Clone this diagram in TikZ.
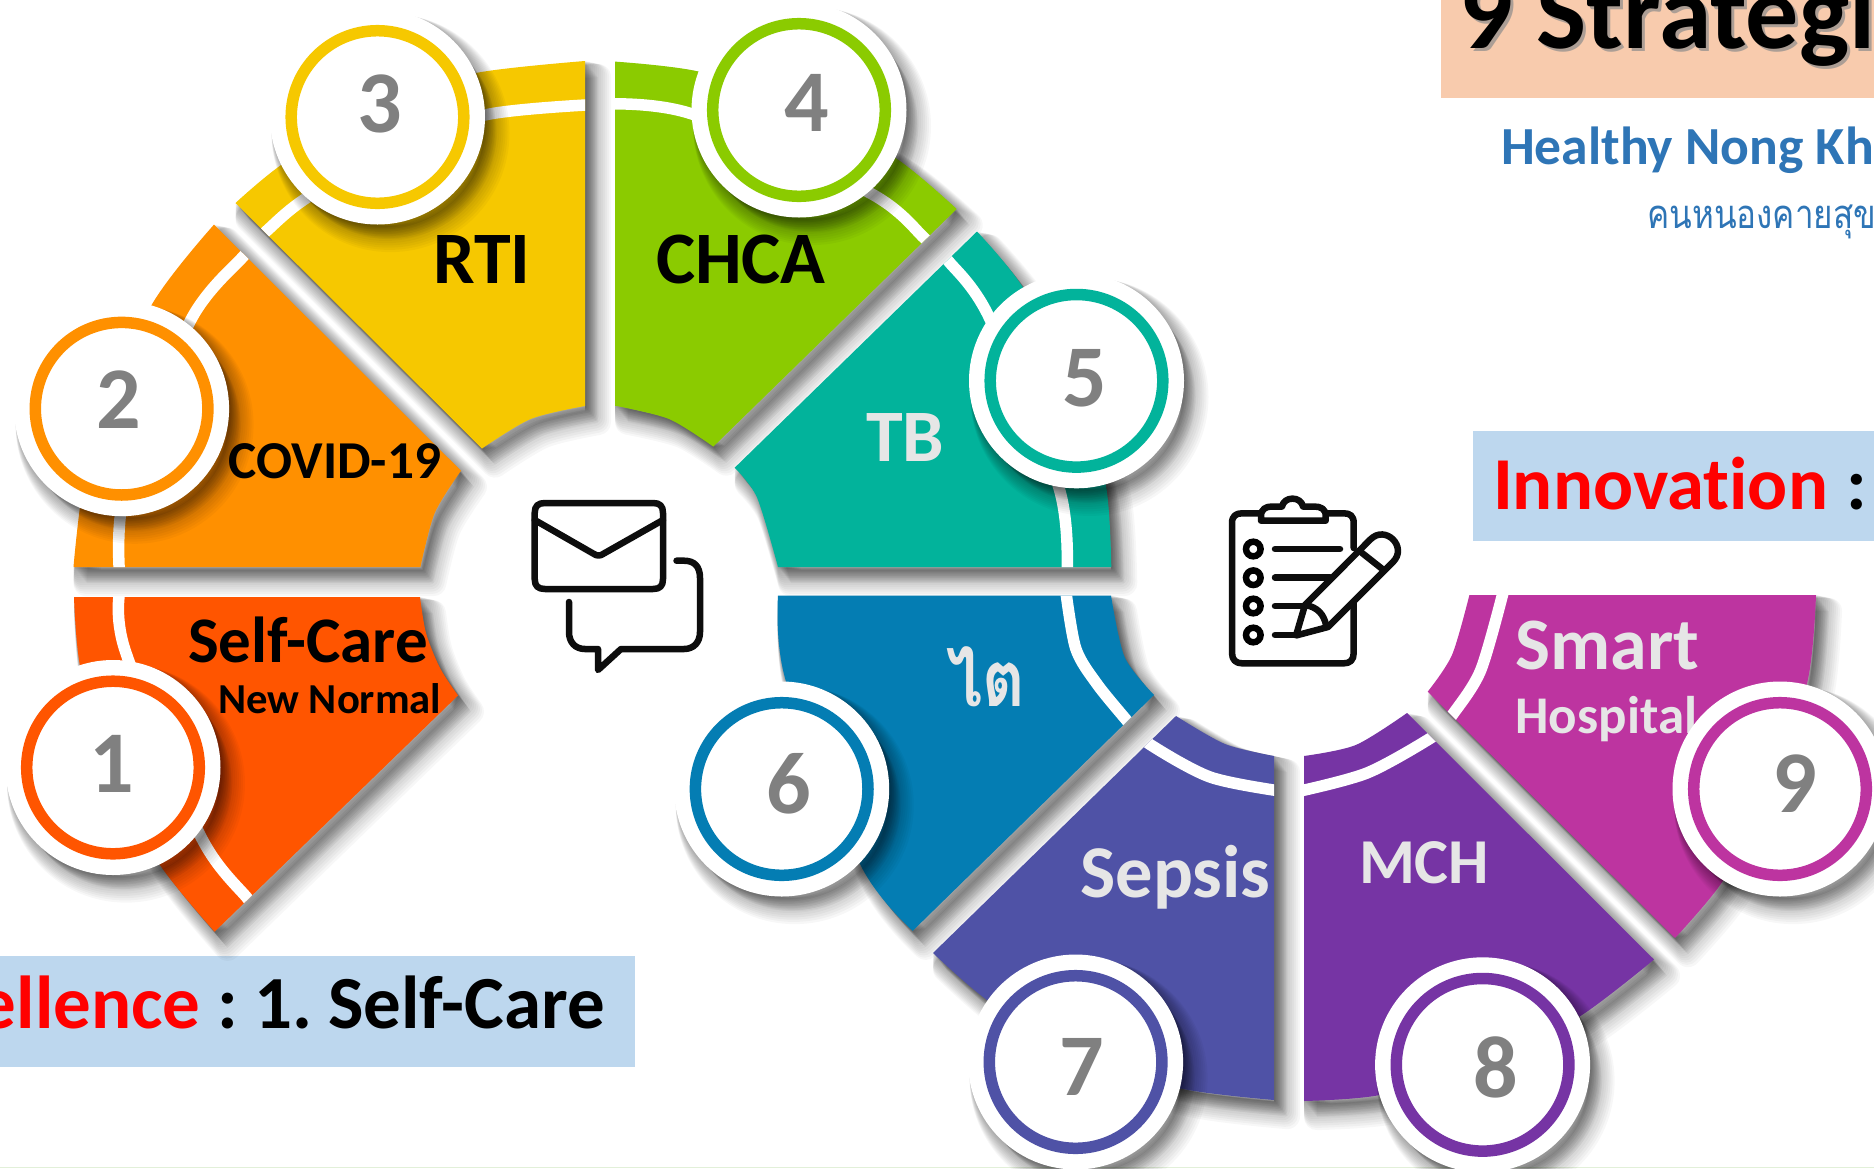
\documentclass[tikz,border=0pt]{standalone}
\usepackage{fontspec}
\setmainfont{Carlito}[Ligatures=NoCommon]
\newfontfamily\thaifont[Script=Thai]{Loma}
\definecolor{cA}{HTML}{FF5500}
\definecolor{cB}{HTML}{FF9000}
\definecolor{cC}{HTML}{F6C800}
\definecolor{cD}{HTML}{8BCB00}
\definecolor{cE}{HTML}{02B39B}
\definecolor{cF}{HTML}{047DB3}
\definecolor{cG}{HTML}{4F52A6}
\definecolor{cH}{HTML}{7634A4}
\definecolor{cI}{HTML}{BD34A0}
\definecolor{lighttxt}{HTML}{E6E6E6}
\definecolor{numgray}{HTML}{808080}
\definecolor{boxblue}{HTML}{BDD7EE}
\definecolor{peach}{HTML}{F8CBAD}
\definecolor{headblue}{HTML}{2E75B6}
\definecolor{edgegreen}{HTML}{E2F0D9}
\tikzset{
  lbl/.style={inner sep=0pt,outer sep=0pt,anchor=base west,font=\bfseries},
  bandline/.style={draw=white,line width=11.5pt},
  iconline/.style={draw=black!95,line width=6.5pt,line cap=round,line join=round}
}
\newcommand\fsz[1]{\fontsize{#1}{#1}\selectfont}
% segment outlines
\def\segA{plot[smooth] coordinates {(74,597)(80,666)(106,770)(160,865)(214.6,931.7)} -- (458,695.5) -- plot[smooth] coordinates {(458,695.5)(440,668)(426,633)(420,597)} -- cycle}
\def\segB{plot[smooth] coordinates {(214,224.6)(151,306)(92,440)(73.5,567)} -- (420.4,567) -- plot[smooth] coordinates {(420.4,567)(434.7,513)(461,470.7)} -- cycle}
\def\segC{plot[smooth] coordinates {(235.5,203)(281.6,164.6)(380,100)(477.5,72.7)(585,61)} -- (585,406) -- plot[smooth] coordinates {(585,406)(530.6,419)(482,448.5)} -- cycle}
\def\segD{plot[smooth] coordinates {(615,61.6)(698.7,71.6)(800,105)(896.6,158.8)(956.7,209)} -- (713.3,446.6) -- plot[smooth] coordinates {(713.3,446.6)(669,419)(615,405.7)} -- cycle}
\def\segE{plot[smooth] coordinates {(977,231.5)(1022,286)(1080,390)(1106,486)(1111.3,567)} -- (778,567) -- plot[smooth] coordinates {(778,567)(757,497.5)(734.7,467.7)} -- cycle}
\def\segF{plot[smooth] coordinates {(778,595.5)(786,681.5)(861,866)(912.7,930.8)} -- (1154,695) -- plot[smooth] coordinates {(1154,695)(1124.6,657)(1111,595.5)} -- cycle}
\def\segG{plot[smooth] coordinates {(933,953)(987,1000)(1080,1060)(1183,1089)(1274,1100)} -- (1274,756) -- plot[smooth] coordinates {(1274,756)(1225,744)(1176,716)} -- cycle}
\def\segH{plot[smooth] coordinates {(1304,1101)(1376.6,1095.6)(1480,1070)(1579,1017)(1654,959.5)} -- (1407,713) -- plot[smooth] coordinates {(1407,713)(1355.8,745)(1304,756)} -- cycle}
\def\segI{plot[smooth] coordinates {(1816,595)(1807.6,681)(1770,800)(1721,883.7)(1675,938)} -- (1427.7,691.7) -- plot[smooth] coordinates {(1427.7,691.7)(1452,655)(1469.4,595)} -- cycle}
\newcommand\softshadow[1]{%
  \foreach \w in {2,4,...,26}{%
    \path[shift={({0.5*\w},{0.62*\w})},draw=black,fill=black,opacity=0.032,line width=\w pt,line join=round] #1;%
  }%
}
\newcommand\segment[3]{% colour, outline, band points
  \path[fill=#1] #2;
  \begin{scope}
    \clip #2;
    \draw[bandline] plot[smooth] coordinates {#3};
  \end{scope}
}
\newcommand\badge[7]{% name,x,y,colour,number,numx,numy
  \softshadow{(#2,#3) circle[radius=106]}
  \node[circle,fill=white,minimum size=215pt,inner sep=0pt,outer sep=0pt] (#1) at (#2,#3) {};
  \draw[#4,line width=11.5pt] (#1.center) circle[radius=86.3];
  \node[font=\bfseries\fsz{88},text=numgray,inner sep=0pt] (#1n) at (#6,#7) {#5};
}
\begin{document}
\begin{tikzpicture}[x=1pt,y=-1pt]
\useasboundingbox (0,0) rectangle (1874,1168);
\clip (0,0) rectangle (1874,1168);
\fill[white] (0,0) rectangle (1874,1168);
\fill[edgegreen] (0,1166.6) rectangle (1874,1168);
% boxes
\fill[peach] (1441,-5) rectangle (1880,97.5);
\fill[boxblue] (1473,431) rectangle (1880,541);
\fill[boxblue] (-5,956) rectangle (635,1066.7);
% segment shadows
\softshadow{\segA}
\softshadow{\segB}
\softshadow{\segC}
\softshadow{\segD}
\softshadow{\segE}
\softshadow{\segF}
\softshadow{\segG}
\softshadow{\segH}
\softshadow{\segI}
% segments
\segment{cA}{\segA}{(120,590)(125,650)(200,835)(248,899)(258,911)}
\segment{cB}{\segB}{(119.6,575)(125,490)(190,321.5)(245,254.5)(255,243)}
\segment{cC}{\segC}{(595,104.5)(485.7,114.8)(385,150)(302,201)(266,231.5)(256,241)}
\segment{cD}{\segD}{(605,104)(692,114)(870,193)(925.3,239)(936,249)}
\segment{cE}{\segE}{(1067,575)(1059,488)(988.4,315.7)(947.5,260)(938,250)}
\segment{cF}{\segF}{(1065,585)(1075.6,648)(1097,684)(1127.7,721.6)(1138,734)}
\segment{cG}{\segG}{(1280,791)(1210,777)(1149,743.8)(1130,725)}
\segment{cH}{\segH}{(1298,791.5)(1367,773)(1431.5,737.5)(1445,724)}
\segment{cI}{\segI}{(1505,585)(1480.8,670)(1452.3,715)(1440,730)}
% labels
\node[lbl,text=black] (tSelf) at (188,662) {\fsz{65}Self-Care};
\node[lbl,text=black] (tNew) at (218,713) {\fsz{42.7}New Normal};
\node[lbl,text=black] (tCovid) at (228.6,478) {\fsz{53.3}COVID-19};
\node[lbl,text=black] (tRti) at (433,283) {\fsz{74}RTI};
\node[lbl,text=black] (tChca) at (656,283) {\fsz{74}CHCA};
\node[lbl,text=lighttxt] (tTb) at (866,461) {\fsz{74}TB};
\node[inner sep=0pt,anchor=base west,text=lighttxt,font=\thaifont\bfseries\fsz{78}] (tKai) at (946,706) {\scalebox{0.84}[1]{ไต}};
\node[lbl,text=lighttxt] (tSepsis) at (1080.5,897.4) {\fsz{74.5}Sepsis};
\node[lbl,text=lighttxt] (tMch) at (1359,883.7) {\fsz{64}MCH};
\node[lbl,text=lighttxt] (tSmart) at (1515.5,669) {\fsz{74}Smart};
\node[lbl,text=lighttxt] (tHosp) at (1515.5,733) {\fsz{53}Hospital};
% header and boxes' text
\node[lbl,text=black!45,opacity=.7] (tTitleS) at (1462,51) {\fsz{106}9 Strategi};
\node[lbl,text=black] (tTitle) at (1459,48) {\fsz{106}9 Strategi};
\node[lbl,text=headblue] (tHealthy) at (1501,164) {\fsz{53.6}Healthy Nong Kh};
\node[inner sep=0pt,anchor=base west,text=headblue,font=\thaifont\fsz{40}] (tThai) at (1647,228) {\scalebox{0.83}[1]{คนหนองคายสุข}};
\node[lbl,text=red] (tInno) at (1493,509) {\fsz{74.7}Innovation};
\node[lbl,text=black] (tInnoC) at (1846,509) {\fsz{74.7}:};
\node[lbl,anchor=base east] (tExc) at (605,1028) {\fsz{75}\textcolor{red}{ellence} :\hspace{-6pt} 1.\hspace{-7.6pt} Self-Care};
% badges
\badge{cOne}{113}{767.5}{cA}{1}{112}{763.7}
\badge{cTwo}{121.6}{408.7}{cB}{2}{118.4}{400}
\badge{cThree}{377.5}{117}{cC}{3}{380}{104}
\badge{cFour}{799}{110}{cD}{4}{806.7}{102.6}
\badge{cFive}{1076.5}{380.8}{cE}{5}{1085}{378.7}
\badge{cSix}{781.7}{789}{cF}{6}{789}{784}
\badge{cSeven}{1075.6}{1062}{cG}{7}{1081.7}{1066.6}
\badge{cEight}{1482.6}{1064.8}{cH}{8}{1496}{1067.4}
\badge{cNine}{1780}{789}{cI}{9}{1795}{784}
% envelope + chat icon
\draw[iconline] (534.7,513) .. controls (534.7,506) and (538,503) .. (545,503) -- (653,503) .. controls (660,503) and (663,506) .. (663,513) -- (663,579) .. controls (663,586) and (660,589) .. (653,589) -- (545,589) .. controls (538,589) and (534.7,586) .. (534.7,579) -- cycle;
\draw[iconline] (534.7,520) -- (594,554) .. controls (597,556) and (600,556) .. (603,554) -- (663,520);
\draw[iconline] (676.5,560.7) -- (684,560.7) .. controls (694,560.7) and (700,566) .. (700,578) -- (700,632) .. controls (700,642) and (694,649) .. (684,649) -- (621,649) -- (598,670) -- (598,649) -- (585,649) .. controls (575,649) and (569,642) .. (569,632) -- (569,602);
% clipboard icon
\draw[iconline] (1353.7,548) -- (1353.7,523) .. controls (1353.7,516) and (1350,513.3) .. (1344,513.3) -- (1326,513.3);
\draw[iconline] (1261,513.3) -- (1242,513.3) .. controls (1236,513.3) and (1232,516) .. (1232,523) -- (1232,653) .. controls (1232,660) and (1236,663.3) .. (1242,663.3) -- (1344,663.3) .. controls (1350,663.3) and (1353.7,660) .. (1353.7,653) -- (1353.7,601.7);
\draw[iconline] (1261,520.7) -- (1261,516) .. controls (1261,509) and (1266,506.5) .. (1272,506.5) -- (1282,506.5) .. controls (1284,496) and (1301,496) .. (1303,506.5) -- (1314,506.5) .. controls (1321,506.5) and (1325.7,509) .. (1325.7,516) -- (1325.7,520.7) -- cycle;
\foreach \ry/\rx in {549/1340,577.7/1330,606/1303,635/1296.7}{
  \draw[black,line width=6.5pt] (1253.3,\ry) circle[radius=7.3];
  \draw[iconline] (1275,\ry) -- (\rx,\ry);
}
\draw[iconline] (1305,605) -- (1370.4,539.4) .. controls (1385.5,524.3) and (1408,547) .. (1393,562) -- (1328,627) -- (1296,635.5) -- cycle;
\draw[iconline] (1305,605) .. controls (1318,607) and (1324,615) .. (1326,625);
\draw[iconline] (1361.7,552.7) -- (1382.7,569.3);
\end{tikzpicture}
\end{document}
